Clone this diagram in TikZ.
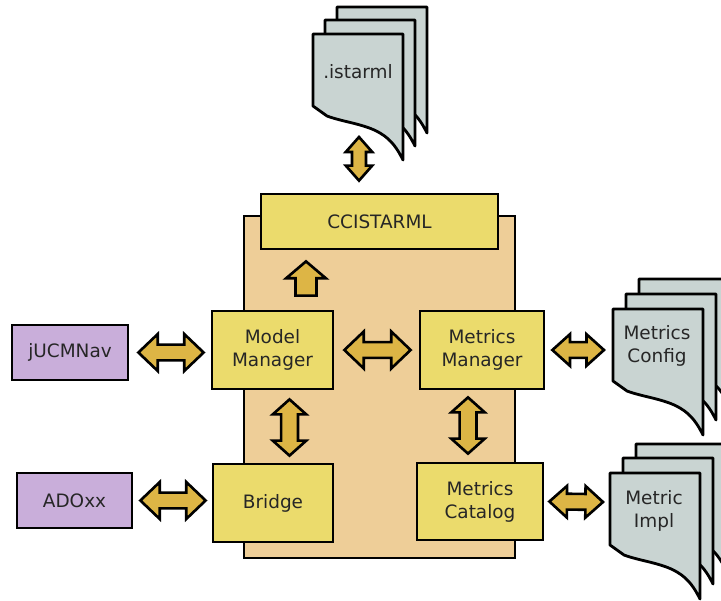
\documentclass[tikz,border=0pt]{standalone}
\usepackage{fontspec}
\setmainfont{DejaVu Sans}
\usepackage{tikz}
\usetikzlibrary{calc}

\definecolor{coretan}{HTML}{EECE98}
\definecolor{modyellow}{HTML}{EBDB6C}
\definecolor{toolpurple}{HTML}{C9AEDA}
\definecolor{docgray}{HTML}{C9D4D2}
\definecolor{arrowgold}{HTML}{DDB545}
\definecolor{labeltext}{HTML}{262626}

\newcommand{\headlen}{11pt}
\newcommand{\headwid}{10.5pt}
\newcommand{\shaftwid}{4.5pt}
\newcommand{\sglhead}{9.6pt}
\newcommand{\sglwid}{11.3pt}
\newcommand{\sglshaft}{6pt}

\tikzset{
    boxtext/.style={text=labeltext, font=\fontsize{10.5}{13}\selectfont, align=center},
    module/.style={boxtext, draw=black, line width=1.6pt, fill=modyellow},
    tool/.style={boxtext, draw=black, line width=1.6pt, fill=toolpurple},
    corebox/.style={draw=black, line width=1.6pt, fill=coretan},
    docpage/.style={draw=black, line width=1.6pt, fill=docgray, line join=round},
    blockarrow/.style={draw=black, line width=1.5pt, fill=arrowgold, line join=miter}
}

% one sheet of a document stack, top left corner given
\newcommand{\docpage}[1]{%
    \draw[docpage, shift={#1}]
        (0,0) -- (90,0) -- (90,126)
        .. controls (85,116) and (79,106) .. (67,99)
        .. controls (52,90) and (30,88) .. (14,82)
        -- (0,72) -- cycle;}

% fat double arrow between two points
\newcommand{\dblarrow}[2]{%
    \draw[blockarrow] (#1)
        -- ($(#1)!\headlen!(#2)!\headwid!90:(#2)$)
        -- ($(#1)!\headlen!(#2)!\shaftwid!90:(#2)$)
        -- ($(#2)!\headlen!(#1)!\shaftwid!-90:(#1)$)
        -- ($(#2)!\headlen!(#1)!\headwid!-90:(#1)$)
        -- (#2)
        -- ($(#2)!\headlen!(#1)!\headwid!90:(#1)$)
        -- ($(#2)!\headlen!(#1)!\shaftwid!90:(#1)$)
        -- ($(#1)!\headlen!(#2)!\shaftwid!-90:(#2)$)
        -- ($(#1)!\headlen!(#2)!\headwid!-90:(#2)$)
        -- cycle;}

% fat single arrow from #1 to #2
\newcommand{\sglarrow}[2]{%
    \draw[blockarrow]
        ($(#1)!\sglshaft!90:(#2)$)
        -- ($(#2)!\sglhead!(#1)!\sglshaft!-90:(#1)$)
        -- ($(#2)!\sglhead!(#1)!\sglwid!-90:(#1)$)
        -- (#2)
        -- ($(#2)!\sglhead!(#1)!\sglwid!90:(#1)$)
        -- ($(#2)!\sglhead!(#1)!\sglshaft!90:(#1)$)
        -- ($(#1)!\sglshaft!-90:(#2)$)
        -- cycle;}

\begin{document}
\begin{tikzpicture}[x=0.02cm, y=-0.02cm]
    \useasboundingbox (0,0) rectangle (721,600);
    \clip (0,0) rectangle (721,600);

    % core component
    \draw[corebox] (244,216) rectangle (515,558);

    \node[module, minimum width=4.74cm, minimum height=1.10cm] (ccistarml) at (379.5,221.5) {CCISTARML};
    \node[module, minimum width=2.42cm, minimum height=1.56cm] (modelmgr) at (272.5,350) {Model\\Manager};
    \node[module, minimum width=2.48cm, minimum height=1.56cm] (metricsmgr) at (482,350) {Metrics\\Manager};
    \node[module, minimum width=2.40cm, minimum height=1.56cm] (bridge) at (273,503) {Bridge};
    \node[module, minimum width=2.52cm, minimum height=1.54cm] (catalog) at (480,501.5) {Metrics\\Catalog};

    % external tools
    \node[tool, minimum width=2.32cm, minimum height=1.10cm] (jucmnav) at (70,352.5) {jUCMNav};
    \node[tool, minimum width=2.30cm, minimum height=1.10cm] (adoxx) at (74.5,500.5) {ADOxx};

    % document stacks
    \docpage{(337,7)} \docpage{(325,20)} \docpage{(313,34)}
    \node[boxtext] (istarml) at (358,72) {.istarml};

    \docpage{(639,279)} \docpage{(626,294)} \docpage{(613,309)}
    \node[boxtext] (config) at (657,346) {Metrics\\Config};

    \docpage{(636,444)} \docpage{(623,458)} \docpage{(610,473)}
    \node[boxtext] (impl) at (654,511) {Metric\\Impl};

    % arrow ends
    \coordinate (i1) at (359,137);
    \coordinate (i2) at ($(ccistarml.north -| i1)+(0,-12)$);
    \coordinate (m1) at ($(modelmgr.east)+(10,0)$);
    \coordinate (m2) at ($(metricsmgr.west)+(-8,0)$);
    \coordinate (j1) at ($(jucmnav.east)+(9,0)$);
    \coordinate (j2) at ($(modelmgr.west |- j1)+(-7,0)$);
    \coordinate (a1) at ($(adoxx.east)+(7,0)$);
    \coordinate (a2) at ($(bridge.west |- a1)+(-6,0)$);
    \coordinate (c1) at ($(metricsmgr.east)+(7,0)$);
    \coordinate (c2) at (604,350);
    \coordinate (k1) at ($(catalog.east)+(5,0)$);
    \coordinate (k2) at (603,502);
    \coordinate (b1) at ($(modelmgr.south)+(17,9)$);
    \coordinate (b2) at ($(bridge.north -| b1)+(0,-7)$);
    \coordinate (n1) at ($(metricsmgr.south)+(-14,7)$);
    \coordinate (n2) at ($(catalog.north -| n1)+(0,-8)$);
    \coordinate (u1) at ($(modelmgr.north -| 306,0)+(0,-14)$);
    \coordinate (u2) at ($(ccistarml.south -| u1)+(0,11)$);

    \dblarrow{m1}{m2}
    \dblarrow{j1}{j2}
    \dblarrow{a1}{a2}
    {\renewcommand{\headlen}{10pt}\renewcommand{\headwid}{9pt}
    \dblarrow{c1}{c2}
    \dblarrow{k1}{k2}}
    {\renewcommand{\headlen}{8.5pt}\renewcommand{\headwid}{9.5pt}\renewcommand{\shaftwid}{4.8pt}
    \dblarrow{b1}{b2}
    \dblarrow{n1}{n2}}
    {\renewcommand{\headlen}{8.5pt}\renewcommand{\headwid}{7.5pt}\renewcommand{\shaftwid}{4pt}
    \dblarrow{i1}{i2}}
    \sglarrow{u1}{u2}
\end{tikzpicture}
\end{document}
